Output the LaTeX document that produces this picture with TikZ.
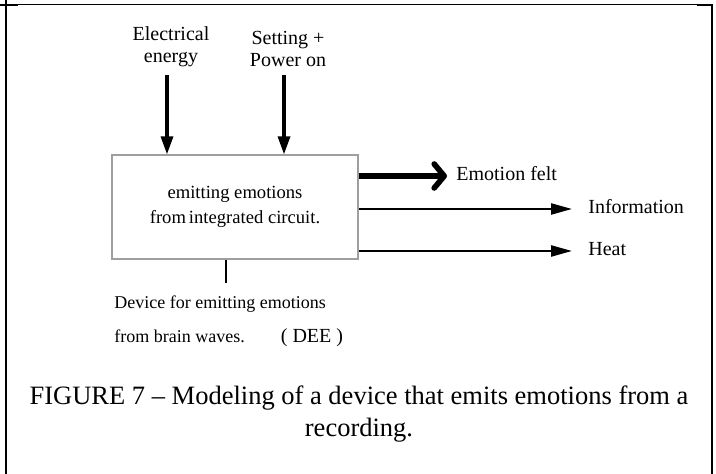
\documentclass[tikz,border=0pt]{standalone}
\usepackage{fontspec}
\setmainfont{Liberation Serif}
\usepackage{tikz}
\usetikzlibrary{arrows.meta,positioning,calc}
\tikzset{
	frameline/.style={line width=1.1pt},
	inarrow/.style={-{Triangle[length=9pt,width=6pt]}, line width=1.6pt},
	outarrow/.style={-{Triangle[length=10.5pt,width=5.5pt]}, line width=1.2pt},
	boldarrow/.style={-{Straight Barb[length=5pt,width=12pt,round]}, line width=2.8pt},
	flowlabel/.style={font=\fontsize{10}{11}\selectfont, inner sep=0pt}
}

\begin{document}
\begin{tikzpicture}[
		blockbox/.style={draw=gray!75, line width=0.6pt, align=center,
			minimum width=123pt, minimum height=52pt,
			font=\fontsize{9.3}{12.5}\selectfont},
		devicetext/.style={align=left, inner sep=0pt,
			font=\fontsize{9}{17}\selectfont},
		captiontext/.style={align=center, inner sep=0pt,
			font=\fontsize{13.25}{16}\selectfont},
		]
		\useasboundingbox (0,0) rectangle (358pt,-237pt);
		
		%% -- Table cell border
		\draw[line width=0.5pt] (0,-2.25pt) -- (356pt,-2.25pt);
		\draw[line width=1pt] (0,-2.6pt) -- (9pt,-2.6pt);
		\draw[line width=1pt] (348.5pt,-2.6pt) -- (356pt,-2.6pt);
		\draw[frameline] (3pt,0) -- (3pt,-237pt);
		\draw[frameline] (356pt,-2pt) -- (356pt,-237pt);
		
		%% -- Main block
		\node[blockbox] (dee) at (117.5pt,-103.5pt)
		{emitting emotions\\from\hspace{1.5pt}integrated circuit.};
		
		%% -- Inputs (from above)
		\coordinate (inelec) at (83.5pt,-37.5pt);
		\coordinate (inset) at (142pt,-37.5pt);
		
		\node[flowlabel, align=center, above=4pt of inelec, xshift=2pt] (elec)
		{Electrical\\energy};
		\node[flowlabel, align=center, above=4pt of inset, xshift=2pt] (set)
		{Setting +\\Power on};
		
		\draw[inarrow] (inelec) -- (inelec |- dee.north);
		\draw[inarrow] (inset) -- (inset |- dee.north);
		
		%% -- Outputs (to the right)
		\coordinate (felttip) at (223.5pt,-88pt);
		\coordinate (infotip) at (286pt,-104.5pt);
		\coordinate (heattip) at (286pt,-125.5pt);
		
		\draw[boldarrow] (dee.east |- felttip) -- (felttip);
		\draw[outarrow] (dee.east |- infotip) -- (infotip);
		\draw[outarrow] (dee.east |- heattip) -- (heattip);
		
		\node[flowlabel, right=4.5pt of felttip, yshift=1pt] (felt) {Emotion felt};
		\node[flowlabel, right=8pt of infotip, yshift=1pt] (info) {Information};
		\node[flowlabel, right=8pt of heattip, yshift=1pt] (heat) {Heat};
		
		%% -- Device name under the block
		\coordinate (stubend) at (113pt,-141.5pt);
		\draw[line width=0.6pt] (stubend |- dee.south) -- (stubend);
		
		\node[devicetext, anchor=north west] (devname) at (57pt,-147.5pt)
		{Device for emitting emotions\\
			from brain waves.\hspace{18pt}{\fontsize{10}{12}\selectfont( DEE )}};
		
		%% -- Caption
		\node[captiontext] (cap) at (179.5pt,-207pt)
		{FIGURE 7 -- Modeling of a device that emits emotions from a\\recording.};
		
	\end{tikzpicture}
\end{document}
